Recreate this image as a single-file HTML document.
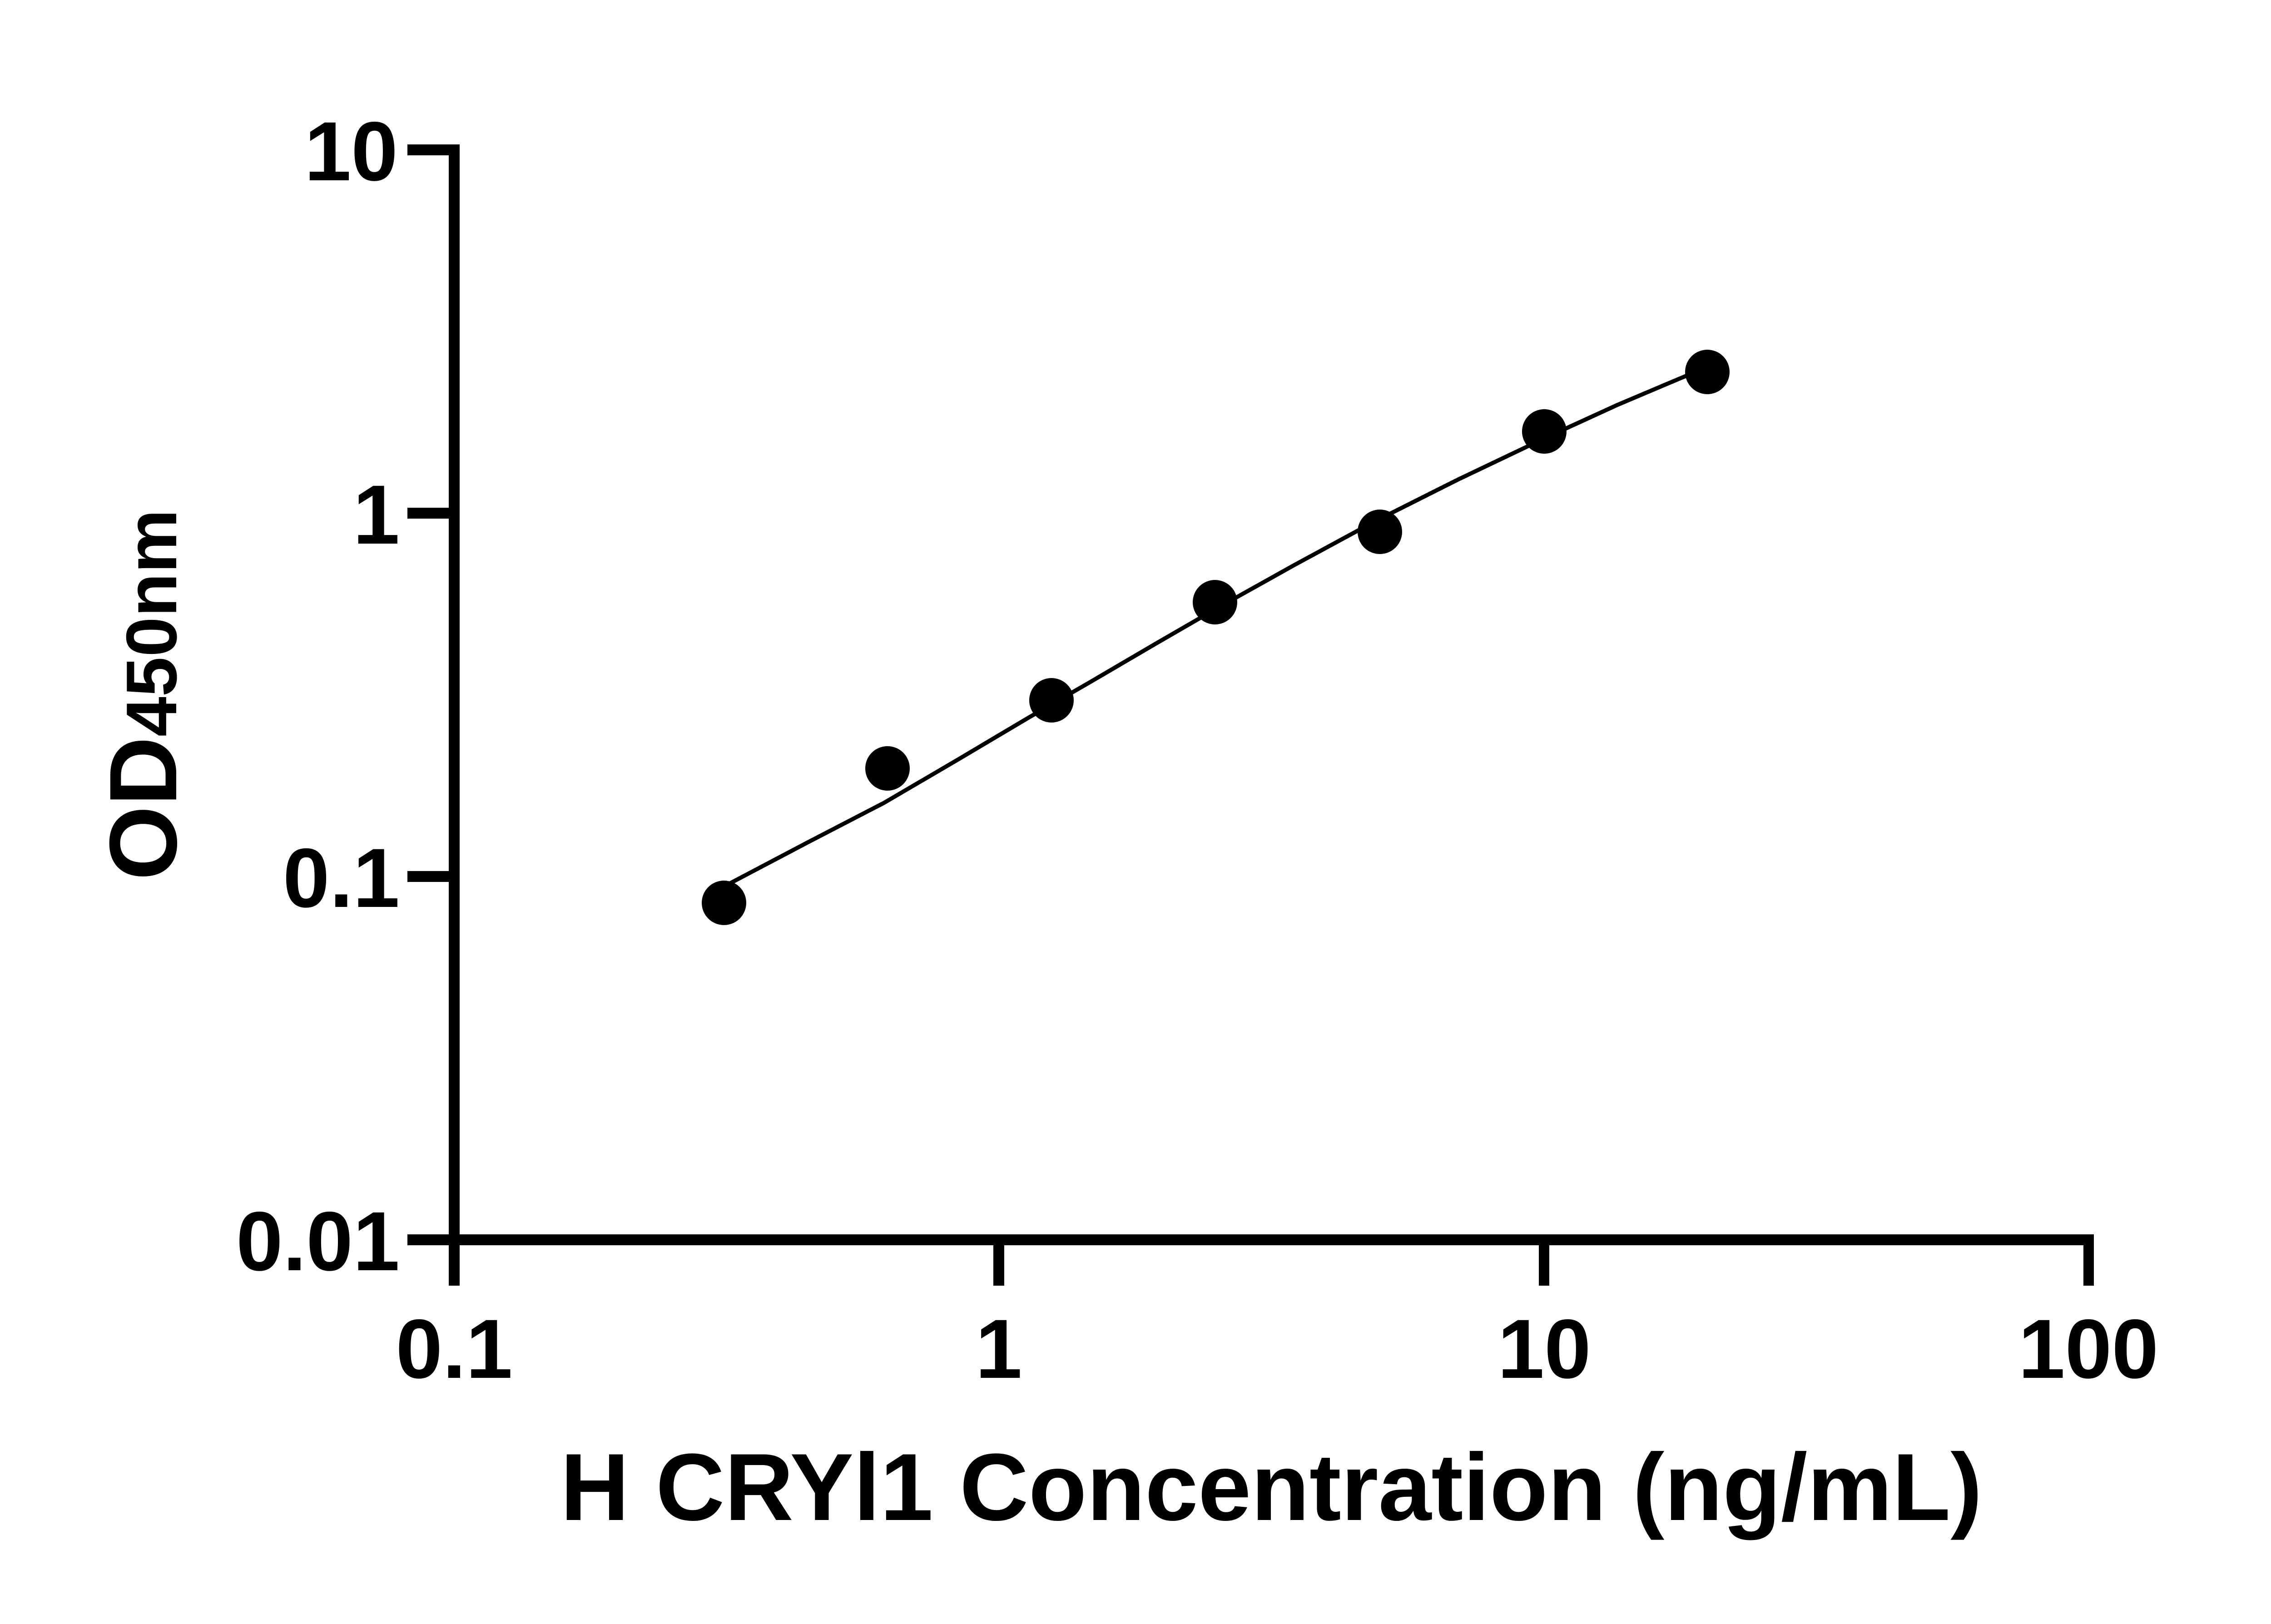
<!DOCTYPE html>
<html>
<head>
<meta charset="utf-8">
<style>
html,body{margin:0;padding:0;background:#fff;}
svg{display:block;}
text{font-family:"Liberation Sans",Arial,sans-serif;font-weight:bold;fill:#000;}
</style>
</head>
<body>
<svg width="5170" height="3576" viewBox="0 0 5170 3576" xmlns="http://www.w3.org/2000/svg">
<rect x="0" y="0" width="5170" height="3576" fill="#fff"/>
<!-- Y axis -->
<rect x="988" y="318" width="24" height="2513" fill="#000"/>
<!-- Y ticks -->
<rect x="897" y="318" width="100" height="24" fill="#000"/>
<rect x="897" y="1118" width="100" height="24" fill="#000"/>
<rect x="897" y="1918" width="100" height="24" fill="#000"/>
<!-- X axis (includes 0.01 tick) -->
<rect x="897" y="2718" width="3713" height="24" fill="#000"/>
<!-- X ticks -->
<rect x="2187" y="2718" width="24" height="113" fill="#000"/>
<rect x="3388" y="2718" width="23" height="113" fill="#000"/>
<rect x="4587" y="2718" width="23" height="113" fill="#000"/>

<!-- Y tick labels -->
<g font-size="185" text-anchor="end">
<text x="876" y="397">10</text>
<text x="880" y="1197">1</text>
<text x="880" y="1997">0.1</text>
<text x="880" y="2797">0.01</text>
</g>
<!-- X tick labels -->
<g font-size="185" text-anchor="middle">
<text x="1000" y="3034">0.1</text>
<text x="2199" y="3034">1</text>
<text x="3400" y="3034">10</text>
<text x="4598" y="3034">100</text>
</g>

<!-- Axis titles -->
<text x="2799" y="3347" font-size="210" text-anchor="middle">H CRYl1 Concentration (ng/mL)</text>
<text transform="translate(388,1530) rotate(-90)" text-anchor="middle"><tspan font-size="211">OD</tspan><tspan font-size="158">450nm</tspan></text>

<!-- Fit curve -->
<polyline fill="none" stroke="#000" stroke-width="9" stroke-linejoin="round" stroke-linecap="round"
 points="1594,1952 1780,1854 1946,1768 2110,1672 2265,1580 2400,1502 2540,1420 2680,1339 2850,1244 3029,1147 3210,1056 3405,963 3560,892 3716,826 3759,810"/>

<!-- Data points -->
<g fill="#000">
<circle cx="1594" cy="1988" r="49"/>
<circle cx="1954" cy="1692" r="49"/>
<circle cx="2315" cy="1542" r="49"/>
<circle cx="2675" cy="1326" r="49"/>
<circle cx="3038" cy="1171" r="49"/>
<circle cx="3400" cy="950" r="49"/>
<circle cx="3759" cy="819" r="49"/>
</g>
</svg>
</body>
</html>
